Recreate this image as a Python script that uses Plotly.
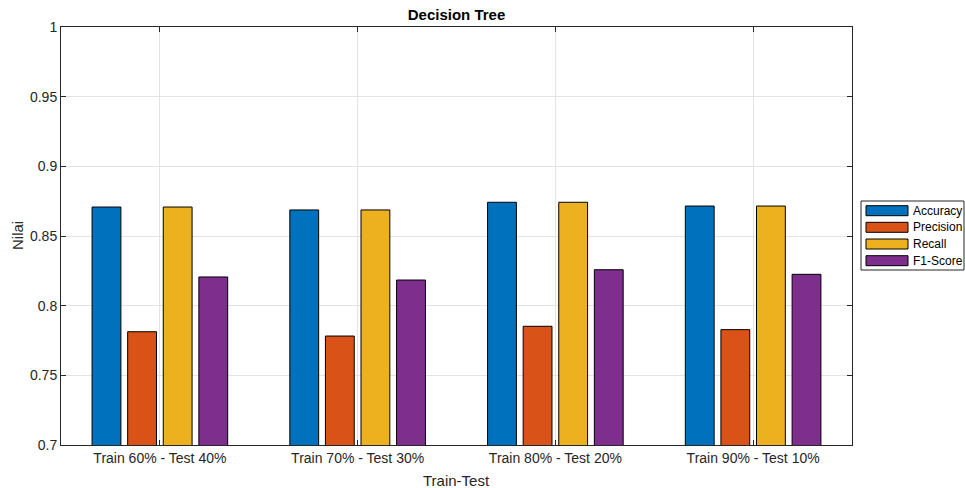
import plotly.graph_objects as go

categories = ["Train 60% - Test 40%", "Train 70% - Test 30%", "Train 80% - Test 20%", "Train 90% - Test 10%"]
accuracy = [0.8708, 0.8687, 0.8742, 0.8715]
precision = [0.7813, 0.7782, 0.7852, 0.7828]
recall = [0.8708, 0.8687, 0.8742, 0.8715]
f1_score = [0.8206, 0.8184, 0.8258, 0.8225]
series_names = ["Accuracy", "Precision", "Recall", "F1-Score"]
colors = ["#0072BD", "#D95319", "#EDB120", "#7E2F8E"]
y_ticks = [0.7, 0.75, 0.8, 0.85, 0.9, 0.95, 1]

font = "Liberation Sans, Arial, sans-serif"
axcol = "#262626"

W, H = 965, 488
# plot area in window pixels: x 61..852, y 27..445
L, T = 61, 27
pw, ph = 852 - 61, 445 - 27
R, B = W - L - pw, H - T - ph


def px(xw):  # window x -> paper
    return (xw - L) / pw


def py(yw):  # window y -> paper
    return (T + ph - yw) / ph


fig = go.Figure()
for name, vals, col in zip(series_names, [accuracy, precision, recall, f1_score], colors):
    fig.add_trace(go.Bar(
        x=categories, y=vals, name=name, showlegend=False,
        marker=dict(color=col, line=dict(color="#000000", width=1)),
    ))

# custom legend (MATLAB style wide swatches)
shapes = [dict(type="rect", xref="paper", yref="paper",
               x0=px(861), x1=px(964), y0=py(270), y1=py(201),
               line=dict(color=axcol, width=1), fillcolor="white", layer="above")]
annotations = []
row_y = [210.7, 227.3, 244.0, 260.7]
for name, col, ry in zip(series_names, colors, row_y):
    shapes.append(dict(type="rect", xref="paper", yref="paper",
                       x0=px(866), x1=px(908), y0=py(ry + 5), y1=py(ry - 5),
                       line=dict(color="#000000", width=1), fillcolor=col, layer="above"))
    annotations.append(dict(text=name, xref="paper", yref="paper", x=px(911), y=py(ry),
                            xanchor="left", yanchor="middle", showarrow=False,
                            font=dict(family=font, size=12, color="#000000")))

# axis titles
annotations.append(dict(text="Train-Test", xref="paper", yref="paper", x=0.5, y=py(480),
                        xanchor="center", yanchor="middle", showarrow=False,
                        font=dict(family=font, size=15, color=axcol)))
annotations.append(dict(text="Nilai", xref="paper", yref="paper", x=px(17), y=py(236),
                        xanchor="center", yanchor="middle", showarrow=False, textangle=-90,
                        font=dict(family=font, size=15, color=axcol)))

fig.update_layout(
    width=W, height=H,
    margin=dict(l=L, r=R, t=T, b=B, autoexpand=False),
    paper_bgcolor="white", plot_bgcolor="white",
    barmode="group", bargap=0.28, bargroupgap=0.19,
    font=dict(family=font, size=14, color=axcol),
    title=dict(text="<b>Decision Tree</b>", x=0.5, xref="paper", xanchor="center",
               y=1 - 15 / H, yref="container", yanchor="middle",
               font=dict(family=font, size=15, color="#000000")),
    shapes=shapes,
    annotations=annotations,
    xaxis=dict(
        automargin=False,
        showline=True, mirror="ticks", linecolor=axcol, linewidth=1,
        ticks="inside", ticklen=5, tickcolor=axcol,
        showgrid=True, gridcolor="#e3e3e3", gridwidth=1,
        tickfont=dict(family=font, size=14, color=axcol),
    ),
    yaxis=dict(
        automargin=False,
        range=[0.7, 1], tickvals=y_ticks, ticktext=[f"{v:g}" for v in y_ticks],
        showline=True, mirror="ticks", linecolor=axcol, linewidth=1,
        ticks="inside", ticklen=5, tickcolor=axcol,
        showgrid=True, gridcolor="#e3e3e3", gridwidth=1, zeroline=False,
        tickfont=dict(family=font, size=14, color=axcol),
    ),
)

# remove the default 8px page margin so the figure fills the window exactly
fig.write_html("out.html",
               config={"displayModeBar": False},
               post_script="document.body.style.margin='0';document.body.style.overflow='hidden';")
